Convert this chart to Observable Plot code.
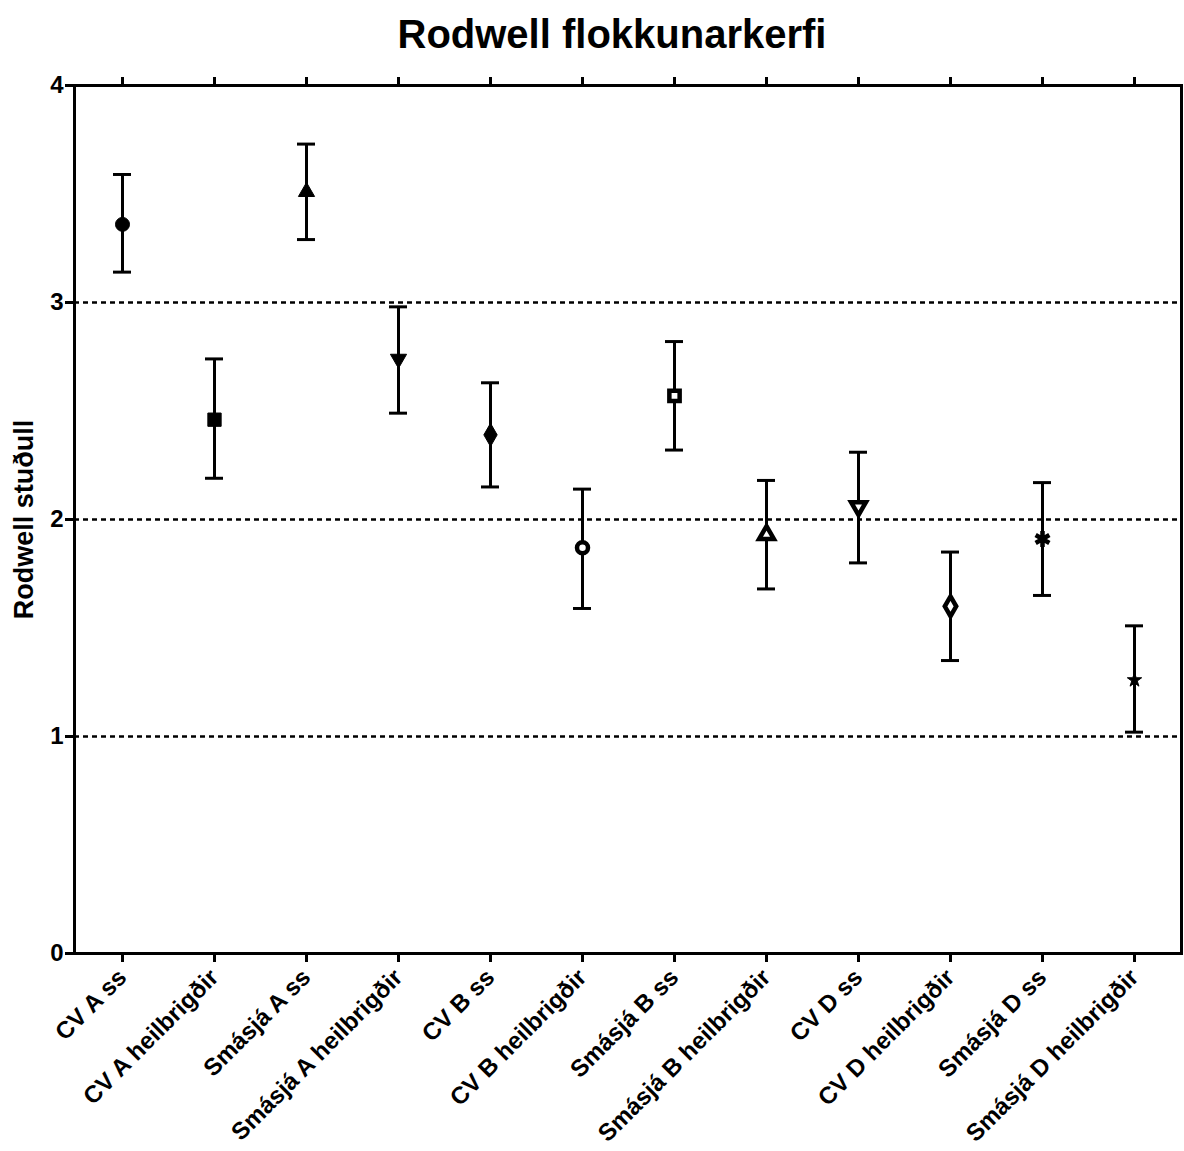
<!DOCTYPE html>
<html>
<head>
<meta charset="utf-8">
<script src="https://cdn.jsdelivr.net/npm/d3@7"></script>
<script src="https://cdn.jsdelivr.net/npm/@observablehq/plot@0.6"></script>
<style>
  body { margin: 0; background: #fff; font-family: "Liberation Sans", Arial, sans-serif; }
  #title { height: 58px; line-height: 68px; font-size: 40px; font-weight: bold; text-align: center; padding-left: 40px; box-sizing: border-box; width: 1184px; overflow: hidden; }
</style>
</head>
<body>
<div id="title">Rodwell flokkunarkerfi</div>
<div id="chart"></div>
<script>
const categories = ["CV A ss","CV A heilbrigðir","Smásjá A ss","Smásjá A heilbrigðir","CV B ss","CV B heilbrigðir","Smásjá B ss","Smásjá B heilbrigðir","CV D ss","CV D heilbrigðir","Smásjá D ss","Smásjá D heilbrigðir"];
const means = [3.36, 2.46, 3.51, 2.74, 2.39, 1.87, 2.57, 1.93, 2.06, 1.60, 1.91, 1.26];
const lows  = [3.14, 2.19, 3.29, 2.49, 2.15, 1.59, 2.32, 1.68, 1.80, 1.35, 1.65, 1.02];
const highs = [3.59, 2.74, 3.73, 2.98, 2.63, 2.14, 2.82, 2.18, 2.31, 1.85, 2.17, 1.51];
const markers = ["circle","square","triangle","triangle-down","diamond","circle","square","triangle","triangle-down","diamond","asterisk","star"];
const filled = [true,true,true,true,true,false,false,false,false,false,true,true];
const yTicks = [0,1,2,3,4];
const gridValues = [1,2,3];
const yLabel = "Rodwell stuðull";

const rows = categories.map((c,i) => ({cat: c, mean: means[i], low: lows[i], high: highs[i], marker: markers[i], filled: filled[i]}));

const triangleDown = {
  draw(ctx, size) {
    const y = -Math.sqrt(size / (Math.sqrt(3) * 3));
    ctx.moveTo(0, -y * 2);
    ctx.lineTo(-Math.sqrt(3) * y, y);
    ctx.lineTo(Math.sqrt(3) * y, y);
    ctx.closePath();
  }
};
const symbolMap = {
  "circle":        {sym: "circle", r: [7, 5.5]},
  "square":        {sym: "square", r: [7.5, 5.8]},
  "triangle":      {sym: "triangle", r: [6, 5.5]},
  "triangle-down": {sym: triangleDown, r: [6, 5.5]},
  "diamond":       {sym: "diamond", r: [7, 6]},
  "asterisk":      {sym: "asterisk", r: [7.5, 7.5]},
  "star":          {sym: "star", r: [4.5, 4.5]}
};

const dotMarks = rows.map(d => {
  const s = symbolMap[d.marker];
  const isAst = d.marker === "asterisk";
  return Plot.dot([d], {
    x: "cat", y: "mean", symbol: s.sym, r: d.filled ? s.r[0] : s.r[1],
    fill: d.filled ? "black" : "white",
    stroke: "black",
    strokeWidth: isAst ? 4.5 : (d.filled ? 1 : 4.5)
  });
});

const chart = Plot.plot({
  width: 1184,
  height: 1093,
  marginLeft: 74,
  marginRight: 3,
  marginTop: 27,
  marginBottom: 198,
  style: { fontFamily: "Liberation Sans, Arial, sans-serif", fontWeight: "bold", color: "black", background: "white" },
  x: { type: "band", domain: categories, padding: 0 },
  y: { domain: [0, 4] },
  marks: [
    Plot.ruleY(gridValues, { stroke: "black", strokeWidth: 2.5, strokeDasharray: "5,4" }),
    Plot.frame({ stroke: "black", strokeWidth: 3 }),
    Plot.axisY({ ticks: yTicks, tickFormat: d3.format("d"), tickSize: 9, tickPadding: 2, strokeWidth: 3, fontSize: 24, label: null }),
    Plot.text([yLabel], { text: d => d, frameAnchor: "left", textAnchor: "middle", dx: -50, rotate: -90, fontSize: 27, fontWeight: "bold", fill: "black" }),
    Plot.axisX({ anchor: "bottom", tickSize: 9, tickPadding: 11, strokeWidth: 3, tickRotate: -45, fontSize: 24, label: null }),
    Plot.axisX({ anchor: "top", tickSize: 9, strokeWidth: 3, tickFormat: () => "", label: null }),
    Plot.ruleX(rows, { x: "cat", y1: "low", y2: "high", stroke: "black", strokeWidth: 3 }),
    Plot.tickY(rows, { x: "cat", y: "low", stroke: "black", strokeWidth: 3, insetLeft: 37, insetRight: 37 }),
    Plot.tickY(rows, { x: "cat", y: "high", stroke: "black", strokeWidth: 3, insetLeft: 37, insetRight: 37 }),
    ...dotMarks
  ]
});
document.getElementById("chart").appendChild(chart);
</script>
</body>
</html>
